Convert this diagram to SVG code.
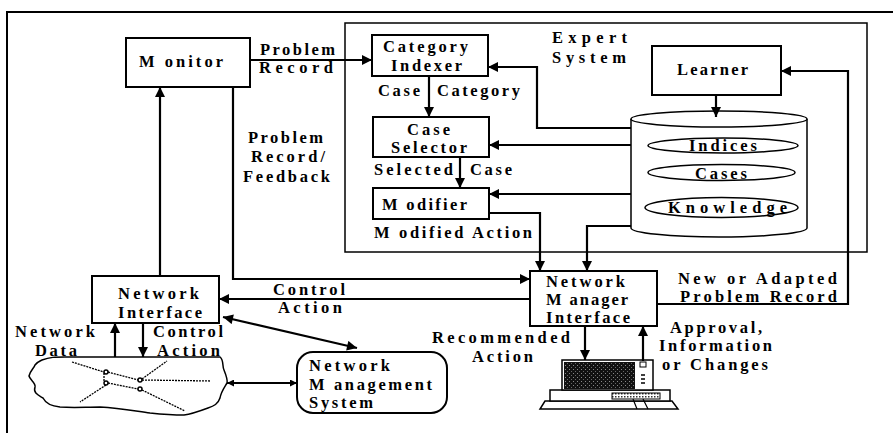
<svg xmlns="http://www.w3.org/2000/svg" width="893" height="433" viewBox="0 0 893 433">
  <style>
    .t { font-family: "Liberation Serif", "Times New Roman", serif; font-weight: bold; font-size: 16.5px; fill: #000; }
    .box { fill: #fff; stroke: #000; stroke-width: 2; }
    .thin { fill: none; stroke: #000; stroke-width: 1.5; }
    .edge { fill: none; stroke: #000; stroke-width: 2.2; }
    .net { fill: none; stroke: #000; stroke-width: 1.3; stroke-dasharray: 2 1; }
  </style>
  <defs>
    <marker id="arrow" viewBox="0 0 10 10" refX="10" refY="5" markerWidth="12" markerHeight="10" markerUnits="userSpaceOnUse" orient="auto-start-reverse">
      <path d="M0,0 L10,5 L0,10 z" fill="#000"/>
    </marker>
    <marker id="arrowSlim" viewBox="0 0 10 10" refX="10" refY="5" markerWidth="12" markerHeight="7" markerUnits="userSpaceOnUse" orient="auto-start-reverse">
      <path d="M0,0 L10,5 L0,10 z" fill="#000"/>
    </marker>
    <pattern id="screenDots" width="4" height="4" patternUnits="userSpaceOnUse">
      <rect width="4" height="4" fill="#111"/>
      <rect x="1" y="1" width="1" height="1" fill="#888"/>
      <rect x="3" y="3" width="1" height="1" fill="#666"/>
    </pattern>
    <pattern id="keys" width="3" height="3" patternUnits="userSpaceOnUse">
      <rect width="3" height="3" fill="#fff"/>
      <rect width="1.5" height="1.5" fill="#333"/>
    </pattern>
  </defs>

  <!-- page frame -->
  <path d="M7,433 V12 H893" fill="none" stroke="#000" stroke-width="2"/>

  <!-- expert system container -->
  <g id="expert-system">
    <rect x="345" y="23" width="522" height="229" class="thin"/>
    <text class="t" x="552" y="43" textLength="75" lengthAdjust="spacing">Expert</text>
    <text class="t" x="552" y="63" textLength="74" lengthAdjust="spacing">System</text>
  </g>

  <g id="monitor">
    <rect x="126" y="38" width="124" height="49" class="box"/>
    <text class="t" x="139" y="67" textLength="84" lengthAdjust="spacing">M onitor</text>
  </g>

  <g id="category-indexer">
    <rect x="372" y="35" width="116" height="41" class="box"/>
    <text class="t" x="383" y="52" textLength="85" lengthAdjust="spacing">Category</text>
    <text class="t" x="391" y="71" textLength="71" lengthAdjust="spacing">Indexer</text>
  </g>

  <g id="case-selector">
    <rect x="373" y="117" width="116" height="40" class="box"/>
    <text class="t" x="407" y="135" textLength="43" lengthAdjust="spacing">Case</text>
    <text class="t" x="391" y="153" textLength="76" lengthAdjust="spacing">Selector</text>
  </g>

  <g id="modifier">
    <rect x="373" y="188" width="116" height="31" class="box"/>
    <text class="t" x="382" y="210" textLength="85" lengthAdjust="spacing">M odifier</text>
  </g>

  <g id="learner">
    <rect x="652" y="46" width="129" height="49" class="box"/>
    <text class="t" x="677" y="75" textLength="71" lengthAdjust="spacing">Learner</text>
  </g>

  <g id="case-base">
    <path d="M631,119 V228 A88,9 0 0 0 807,228 V119" fill="#fff" stroke="#000" stroke-width="1.5"/>
    <ellipse cx="719" cy="119" rx="88" ry="8" fill="#fff" stroke="#000" stroke-width="1.5"/>
    <ellipse cx="723" cy="145.5" rx="75" ry="7.5" class="thin"/>
    <ellipse cx="721.5" cy="172.5" rx="73.5" ry="8" class="thin"/>
    <ellipse cx="721.5" cy="207.5" rx="76.5" ry="10" class="thin"/>
    <text class="t" x="689" y="151" textLength="68" lengthAdjust="spacing">Indices</text>
    <text class="t" x="695" y="179" textLength="52" lengthAdjust="spacing">Cases</text>
    <text class="t" x="668" y="213" textLength="119" lengthAdjust="spacing">Knowledge</text>
  </g>

  <g id="network-manager-interface">
    <rect x="530" y="271" width="127" height="55" class="box"/>
    <text class="t" x="546" y="287" textLength="79" lengthAdjust="spacing">Network</text>
    <text class="t" x="546" y="305" textLength="82" lengthAdjust="spacing">M anager</text>
    <text class="t" x="546" y="323" textLength="84" lengthAdjust="spacing">Interface</text>
  </g>

  <g id="network-interface">
    <rect x="92" y="276" width="127" height="47" class="box"/>
    <text class="t" x="118" y="299" textLength="81" lengthAdjust="spacing">Network</text>
    <text class="t" x="118" y="318" textLength="84" lengthAdjust="spacing">Interface</text>
  </g>

  <g id="network-management-system">
    <rect x="297" y="352" width="150" height="61" rx="16" ry="16" class="box"/>
    <text class="t" x="309" y="371" textLength="81" lengthAdjust="spacing">Network</text>
    <text class="t" x="309" y="390" textLength="123" lengthAdjust="spacing">M anagement</text>
    <text class="t" x="309" y="408" textLength="64" lengthAdjust="spacing">System</text>
  </g>

  <!-- the managed network, drawn as a cloud with links and nodes -->
  <g id="network">
    <path d="M42,360 C50,357 55,357 65,357 L220,357 C224,360 222,366 224,370 C226,375 228,380 227,383 C224,388 221,392 220,398 C218,404 214,406 208,408 C200,411 192,414 184,415 C170,415 160,414 150,413 C135,411 120,408 100,407 C85,407 75,408 60,407 C50,406 45,402 43,398 C38,395 33,393 35,387 C36,383 30,380 29,376 C30,371 34,368 35,365 C37,362 40,361 42,360 Z" fill="#fff" stroke="#000" stroke-width="1.5"/>
    <path class="net" d="M72,362 L104,372"/>
    <path class="net" d="M108,372 L138,380"/>
    <path class="net" d="M108,383 L138,389"/>
    <path class="net" d="M104,373 V382"/>
    <path class="net" d="M142,380 L211,381"/>
    <path class="net" d="M142,379 L167,361"/>
    <path class="net" d="M142,390 L185,411"/>
    <path class="net" d="M106,385 L80,402"/>
    <circle cx="106" cy="372" r="2" class="thin" stroke-width="1.2"/>
    <circle cx="106" cy="383" r="2" class="thin" stroke-width="1.2"/>
    <circle cx="140" cy="380" r="2" class="thin" stroke-width="1.2"/>
    <circle cx="140" cy="389" r="2" class="thin" stroke-width="1.2"/>
  </g>

  <!-- operator workstation -->
  <g id="workstation">
    <polygon points="545,401 672,401 678,409 540,409" fill="#fff" stroke="#000" stroke-width="1.5"/>
    <rect x="550" y="390" width="120" height="11" fill="#fff" stroke="#000" stroke-width="1.5"/>
    <rect x="612" y="393" width="48" height="6" fill="url(#keys)" stroke="#000" stroke-width="1"/>
    <path d="M633,399 L637,409 M643,399 L648,409" stroke="#000" stroke-width="1.2" fill="none"/>
    <rect x="562" y="360" width="91" height="30" fill="#fff" stroke="#000" stroke-width="1.5"/>
    <rect x="564" y="362" width="71" height="27" fill="url(#screenDots)"/>
    <rect x="640" y="362" width="6" height="5" fill="#fff" stroke="#000" stroke-width="1"/>
    <path d="M641,375 H645 M641,379 H645 M641,383 H645" stroke="#000" stroke-width="1.5"/>
  </g>

  <!-- connectors -->
  <g id="connectors">
    <path class="edge" d="M250,60 H372" marker-end="url(#arrow)"/>
    <path class="edge" d="M160,276 V87" marker-end="url(#arrow)"/>
    <path class="edge" d="M233,87 V279 H530" marker-end="url(#arrow)"/>
    <path class="edge" d="M631,128 H537 V67 H488" marker-end="url(#arrow)"/>
    <path class="edge" d="M429,76 V117" marker-end="url(#arrow)"/>
    <path class="edge" d="M631,145 H489" marker-end="url(#arrow)"/>
    <path class="edge" d="M460,157 V188" marker-end="url(#arrow)"/>
    <path class="edge" d="M631,194 H489" marker-end="url(#arrow)"/>
    <path class="edge" d="M489,213 H540 V271" marker-end="url(#arrow)"/>
    <path class="edge" d="M631,226 H587 V271" marker-end="url(#arrow)"/>
    <path class="edge" d="M716,95 V117" marker-end="url(#arrow)"/>
    <path class="edge" d="M657,304 H848 V71 H781" marker-end="url(#arrow)"/>
    <path class="edge" d="M530,299 H219" marker-end="url(#arrow)"/>
    <path class="edge" d="M223,317 L357,348" marker-start="url(#arrow)" marker-end="url(#arrow)"/>
    <path class="edge" d="M227,383 H297" marker-start="url(#arrowSlim)" marker-end="url(#arrowSlim)"/>
    <path class="edge" d="M115,357 V323" marker-end="url(#arrow)"/>
    <path class="edge" d="M143,323 V357" marker-end="url(#arrow)"/>
    <path class="edge" d="M585,326 V360" marker-end="url(#arrow)"/>
    <path class="edge" d="M643,361 V326" marker-end="url(#arrow)"/>
  </g>

  <!-- connector labels -->
  <g id="labels">
    <text class="t" x="260" y="55" textLength="75" lengthAdjust="spacing">Problem</text>
    <text class="t" x="259" y="73" textLength="74" lengthAdjust="spacing">Record</text>
    <text class="t" x="248" y="143" textLength="75" lengthAdjust="spacing">Problem</text>
    <text class="t" x="251" y="162" textLength="74" lengthAdjust="spacing">Record/</text>
    <text class="t" x="243" y="182" textLength="87" lengthAdjust="spacing">Feedback</text>
    <text class="t" x="378" y="96" textLength="42" lengthAdjust="spacing">Case</text>
    <text class="t" x="437" y="96" textLength="83" lengthAdjust="spacing">Category</text>
    <text class="t" x="374" y="175" textLength="79" lengthAdjust="spacing">Selected</text>
    <text class="t" x="470" y="175" textLength="42" lengthAdjust="spacing">Case</text>
    <text class="t" x="374" y="238" textLength="158" lengthAdjust="spacing">M odified Action</text>
    <text class="t" x="273" y="295" textLength="72" lengthAdjust="spacing">Control</text>
    <text class="t" x="278" y="313" textLength="64" lengthAdjust="spacing">Action</text>
    <text class="t" x="15" y="337" textLength="80" lengthAdjust="spacing">Network</text>
    <text class="t" x="35" y="356" textLength="42" lengthAdjust="spacing">Data</text>
    <text class="t" x="153" y="337" textLength="70" lengthAdjust="spacing">Control</text>
    <text class="t" x="157" y="356" textLength="63" lengthAdjust="spacing">Action</text>
    <text class="t" x="432" y="343" textLength="138" lengthAdjust="spacing">Recommended</text>
    <text class="t" x="472" y="362" textLength="61" lengthAdjust="spacing">Action</text>
    <text class="t" x="678" y="284" textLength="159" lengthAdjust="spacing">New or Adapted</text>
    <text class="t" x="680" y="302" textLength="157" lengthAdjust="spacing">Problem Record</text>
    <text class="t" x="670" y="333" textLength="92" lengthAdjust="spacing">Approval,</text>
    <text class="t" x="659" y="351" textLength="113" lengthAdjust="spacing">Information</text>
    <text class="t" x="662" y="370" textLength="106" lengthAdjust="spacing">or Changes</text>
  </g>
</svg>
